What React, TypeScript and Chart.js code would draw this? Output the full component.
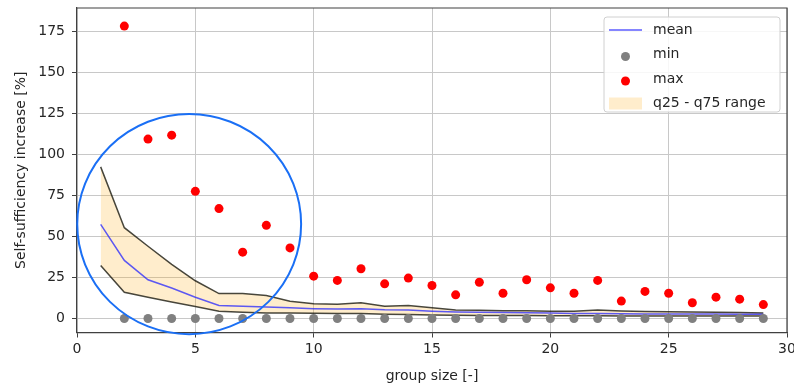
import React, { useEffect, useRef } from "react";
import { Chart, registerables } from "chart.js";

Chart.register(...registerables);

// ---------- data ----------
const groupSizes = [1, 2, 3, 4, 5, 6, 7, 8, 9, 10, 11, 12, 13, 14, 15, 16, 17, 18, 19, 20, 21, 22, 23, 24, 25, 26, 27, 28, 29];
const meanValues = [57.3, 35.4, 23.6, 18.6, 13.0, 8.0, 7.5, 7.0, 6.5, 6.0, 5.8, 6.0, 5.3, 5.2, 4.5, 4.0, 3.8, 3.6, 3.5, 3.3, 3.1, 3.1, 2.9, 2.8, 2.8, 2.7, 2.7, 2.6, 2.6];
const q75Values = [92.3, 55.3, 44.0, 33.0, 23.0, 15.2, 15.2, 14.0, 10.5, 9.0, 8.7, 9.6, 7.5, 7.9, 6.5, 5.2, 5.0, 4.8, 4.7, 4.5, 4.5, 5.2, 4.6, 4.3, 4.2, 4.0, 3.8, 3.6, 3.4];
const q25Values = [32.3, 16.0, 13.0, 10.0, 7.3, 4.5, 3.9, 3.4, 3.3, 3.2, 3.0, 3.0, 2.6, 2.5, 2.2, 2.0, 1.9, 1.8, 1.8, 1.7, 1.7, 1.7, 1.6, 1.6, 1.6, 1.5, 1.5, 1.5, 1.5];

const pointGroupSizes = [2, 3, 4, 5, 6, 7, 8, 9, 10, 11, 12, 13, 14, 15, 16, 17, 18, 19, 20, 21, 22, 23, 24, 25, 26, 27, 28, 29];
const minValues = [0, 0, 0, 0, 0, 0, 0, 0, 0, 0, 0, 0, 0, 0, 0, 0, 0, 0, 0, 0, 0, 0, 0, 0, 0, 0, 0, 0];
const maxValues = [178, 109.2, 111.6, 77.4, 66.9, 40.4, 56.7, 43.0, 25.8, 23.2, 30.3, 21.1, 24.6, 20.1, 14.4, 22.1, 15.4, 23.6, 18.7, 15.4, 23.2, 10.6, 16.5, 15.4, 9.6, 13.0, 11.8, 8.5];

const xTickValues = [0, 5, 10, 15, 20, 25, 30];
const yTickValues = [0, 25, 50, 75, 100, 125, 150, 175];

const meanLabel = "mean";
const minLabel = "min";
const maxLabel = "max";
const rangeLabel = "q25 - q75 range";
const xAxisTitle = "group size [-]";
const yAxisTitle = "Self-sufficiency increase [%]";

// annotation ellipse (data units)
const circleCenter = { x: 4.74, y: 57.5 };
const circleRadius = { x: 4.73, y: 67 };

// ---------- styles ----------
const FONT = "'DejaVu Sans', sans-serif";
const TEXT = "#262626";
const SPINE = "#404040";
const GRID = "#c8c8c8";
const MEAN_COLOR = "rgba(30,30,255,0.72)";
const EDGE_COLOR = "rgba(20,20,10,0.78)";
const FILL_COLOR = "rgba(255,165,0,0.2)";
const MIN_COLOR = "#808080";
const MAX_COLOR = "#ff0000";
const CIRCLE_COLOR = "#1a6ff5";

const pts = (xs: number[], ys: number[]) => xs.map((x, i) => ({ x, y: ys[i] }));

const framePlugin = {
  id: "frame",
  afterDatasetsDraw(chart: any) {
    const { ctx, chartArea } = chart;
    ctx.save();
    ctx.strokeStyle = SPINE;
    ctx.lineWidth = 1.2;
    ctx.beginPath();
    ctx.moveTo(chartArea.left, chartArea.top);
    ctx.lineTo(chartArea.right, chartArea.top);
    ctx.lineTo(chartArea.right, chartArea.bottom);
    ctx.stroke();
    ctx.restore();
  },
};

const legendPlugin = {
  id: "customLegend",
  afterDraw(chart: any) {
    const { ctx, chartArea } = chart;
    const boxW = 176;
    const boxH = 95;
    const bx = chartArea.right - 7 - boxW;
    const by = chartArea.top + 9;
    ctx.save();
    ctx.beginPath();
    ctx.roundRect(bx, by, boxW, boxH, 3);
    ctx.fillStyle = "rgba(255,255,255,0.85)";
    ctx.fill();
    ctx.strokeStyle = "#d0d0d0";
    ctx.lineWidth = 1;
    ctx.stroke();

    const items = [
      { kind: "line", color: MEAN_COLOR, text: meanLabel },
      { kind: "dot", color: MIN_COLOR, text: minLabel },
      { kind: "dot", color: MAX_COLOR, text: maxLabel },
      { kind: "patch", color: FILL_COLOR, text: rangeLabel },
    ];
    const sx0 = bx + 5;
    const sx1 = bx + 38;
    const tx = bx + 49;
    ctx.font = `14px ${FONT}`;
    ctx.textBaseline = "middle";
    ctx.textAlign = "left";
    items.forEach((it, i) => {
      const cy = by + 13 + i * 24.5;
      if (it.kind === "line") {
        ctx.strokeStyle = it.color;
        ctx.lineWidth = 1.5;
        ctx.beginPath();
        ctx.moveTo(sx0, cy);
        ctx.lineTo(sx1, cy);
        ctx.stroke();
      } else if (it.kind === "dot") {
        ctx.fillStyle = it.color;
        ctx.beginPath();
        ctx.arc((sx0 + sx1) / 2, cy + 2, 4.5, 0, Math.PI * 2);
        ctx.fill();
      } else {
        ctx.fillStyle = it.color;
        ctx.fillRect(sx0, cy - 6, sx1 - sx0, 12);
      }
      ctx.fillStyle = TEXT;
      ctx.fillText(it.text, tx, cy);
    });
    ctx.restore();
  },
};

const circlePlugin = {
  id: "circleAnnotation",
  afterDraw(chart: any) {
    const { ctx, scales } = chart;
    const xs = scales.x;
    const ys = scales.y;
    const cx = xs.getPixelForValue(circleCenter.x);
    const cy = ys.getPixelForValue(circleCenter.y);
    const rx = Math.abs(xs.getPixelForValue(circleCenter.x + circleRadius.x) - cx);
    const ry = Math.abs(ys.getPixelForValue(circleCenter.y + circleRadius.y) - cy);
    ctx.save();
    ctx.strokeStyle = CIRCLE_COLOR;
    ctx.lineWidth = 2;
    ctx.beginPath();
    ctx.ellipse(cx, cy, rx, ry, 0, 0, Math.PI * 2);
    ctx.stroke();
    ctx.restore();
  },
};

export default function App() {
  const ref = useRef<HTMLCanvasElement>(null);

  useEffect(() => {
    document.body.style.margin = "0";
    const canvas = ref.current;
    if (!canvas) return;
    const font = { family: FONT, size: 14 };
    const chart = new Chart(canvas, {
      type: "line",
      data: {
        datasets: [
          {
            label: maxLabel,
            data: pts(pointGroupSizes, maxValues),
            showLine: false,
            pointRadius: 4.5,
            pointBorderWidth: 0,
            pointBackgroundColor: MAX_COLOR,
            backgroundColor: MAX_COLOR,
            borderColor: MAX_COLOR,
          },
          {
            label: minLabel,
            data: pts(pointGroupSizes, minValues),
            showLine: false,
            pointRadius: 4.5,
            pointBorderWidth: 0,
            pointBackgroundColor: MIN_COLOR,
            backgroundColor: MIN_COLOR,
            borderColor: MIN_COLOR,
          },
          {
            label: meanLabel,
            data: pts(groupSizes, meanValues),
            borderColor: MEAN_COLOR,
            borderWidth: 1.5,
            pointRadius: 0,
            fill: false,
            tension: 0,
          },
          {
            label: "q75",
            data: pts(groupSizes, q75Values),
            borderColor: EDGE_COLOR,
            borderWidth: 1.5,
            pointRadius: 0,
            tension: 0,
            fill: "+1",
            backgroundColor: FILL_COLOR,
          },
          {
            label: "q25",
            data: pts(groupSizes, q25Values),
            borderColor: EDGE_COLOR,
            borderWidth: 1.5,
            pointRadius: 0,
            tension: 0,
            fill: false,
          },
        ],
      },
      options: {
        animation: false,
        responsive: false,
        devicePixelRatio: 1,
        layout: { padding: { top: 8, right: 7, left: 0, bottom: 0 } },
        plugins: {
          legend: { display: false },
          tooltip: { enabled: false },
          filler: { drawTime: "beforeDatasetsDraw" },
        },
        scales: {
          x: {
            type: "linear",
            min: 0,
            max: 30,
            afterBuildTicks: (s: any) => {
              s.ticks = xTickValues.map((v) => ({ value: v }));
            },
            afterFit: (s: any) => {
              s.height = 52.5;
              s.paddingLeft = 0;
              s.paddingRight = 0;
            },
            ticks: { font, color: TEXT, padding: 3, maxRotation: 0, autoSkip: false },
            grid: { color: GRID, lineWidth: 1, tickLength: 5, tickColor: SPINE },
            border: { color: SPINE, width: 1.2 },
            title: { display: true, text: xAxisTitle, font, color: TEXT, padding: { top: 2, bottom: 0 } },
          },
          y: {
            type: "linear",
            min: -8.5,
            max: 189,
            afterBuildTicks: (s: any) => {
              s.ticks = yTickValues.map((v) => ({ value: v }));
            },
            afterFit: (s: any) => {
              s.width = 77;
              s.paddingTop = 0;
              s.paddingBottom = 0;
            },
            ticks: { font, color: TEXT, padding: 7 },
            grid: { color: GRID, lineWidth: 1, tickLength: 5, tickColor: SPINE },
            border: { color: SPINE, width: 1.2 },
            title: { display: true, text: yAxisTitle, font, color: TEXT, padding: { top: 13, bottom: 0 } },
          },
        },
      },
      plugins: [framePlugin, legendPlugin, circlePlugin],
    } as any);
    return () => chart.destroy();
  }, []);

  return (
    <div style={{ position: "absolute", left: 0, top: 0, width: 794, height: 385 }}>
      <canvas ref={ref} width={794} height={385} style={{ display: "block" }} />
    </div>
  );
}
